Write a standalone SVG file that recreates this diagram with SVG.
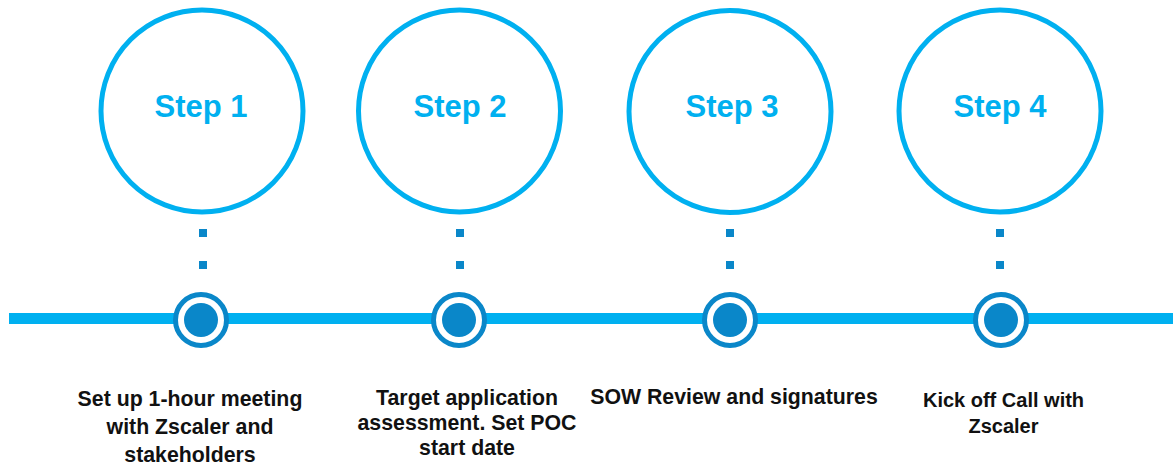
<svg xmlns="http://www.w3.org/2000/svg" width="1173" height="465" viewBox="0 0 1173 465">
<style>
.big{fill:#fff;stroke:#00B0F0;stroke-width:5}
.st{font-family:"Liberation Sans",Arial,sans-serif;font-weight:bold;font-size:31px;fill:#00B0F0;text-anchor:middle}
.ring{fill:#fff;stroke:#0A87C9;stroke-width:5}
.core{fill:#0A87C9}
.sq{fill:#0A87C9}
.lbl{font-family:"Liberation Sans",Arial,sans-serif;font-weight:bold;font-size:21.3px;fill:#111;text-anchor:middle}
</style>
<g id="connectors">
<rect x="9" y="313" width="1164" height="11" fill="#00B0F0"/>
</g>
<g id="step1">
<circle class="big" cx="202" cy="111" r="101"/>
<text class="st" x="201" y="117">Step 1</text>
<rect class="sq" x="199" y="229" width="8" height="8"/>
<rect class="sq" x="199" y="261" width="8" height="8"/>
<circle class="ring" cx="201" cy="320" r="25.5"/>
<circle class="core" cx="201" cy="320" r="17"/>
<text class="lbl" x="190" y="406">Set up 1-hour meeting</text>
<text class="lbl" x="190" y="434">with Zscaler and</text>
<text class="lbl" x="190" y="462">stakeholders</text>
</g>
<g id="step2">
<circle class="big" cx="459.5" cy="111" r="101"/>
<text class="st" x="460" y="117">Step 2</text>
<rect class="sq" x="456" y="229" width="8" height="8"/>
<rect class="sq" x="456" y="261" width="8" height="8"/>
<circle class="ring" cx="459" cy="320" r="25.5"/>
<circle class="core" cx="459" cy="320" r="17"/>
<text class="lbl" x="467" y="405">Target application</text>
<text class="lbl" x="467" y="430">assessment. Set POC</text>
<text class="lbl" x="467" y="455">start date</text>
</g>
<g id="step3">
<circle class="big" cx="730" cy="111.5" r="101"/>
<text class="st" x="732" y="117">Step 3</text>
<rect class="sq" x="726" y="229" width="8" height="8"/>
<rect class="sq" x="726" y="261" width="8" height="8"/>
<circle class="ring" cx="730" cy="320" r="25.5"/>
<circle class="core" cx="730" cy="320" r="17"/>
<text class="lbl" x="734" y="404">SOW Review and signatures</text>
</g>
<g id="step4">
<circle class="big" cx="1000" cy="111" r="101"/>
<text class="st" x="1000" y="117">Step 4</text>
<rect class="sq" x="996" y="229" width="8" height="8"/>
<rect class="sq" x="996" y="261" width="8" height="8"/>
<circle class="ring" cx="1001" cy="320" r="25.5"/>
<circle class="core" cx="1001" cy="320" r="17"/>
<text class="lbl" x="1003.5" y="407" style="font-size:20px">Kick off Call with</text>
<text class="lbl" x="1003.5" y="433" style="font-size:20px">Zscaler</text>
</g>
</svg>
